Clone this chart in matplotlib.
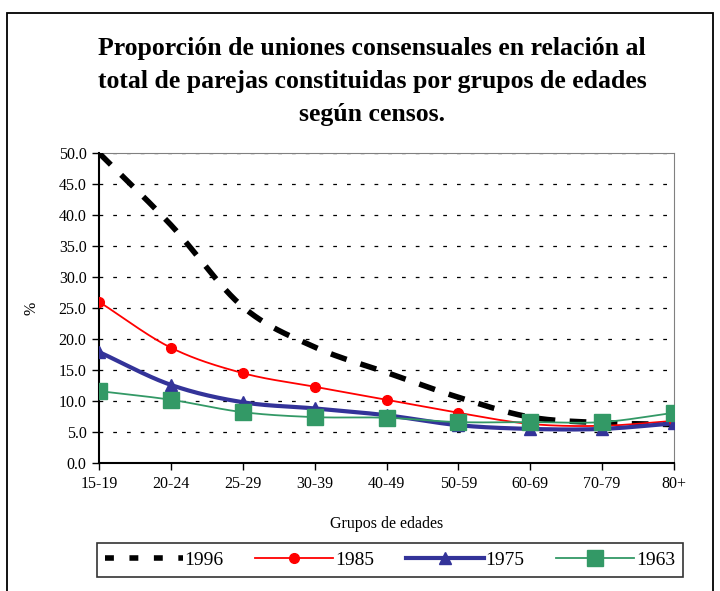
import numpy as np
import matplotlib
matplotlib.use('Agg')
import matplotlib.pyplot as plt
from matplotlib.lines import Line2D
from matplotlib.patches import Rectangle

# Data
grupos = ['15-19', '20-24', '25-29', '30-39', '40-49', '50-59', '60-69', '70-79', '80+']
censo_1996 = [50.0, 38.4, 25.2, 18.7, 14.6, 10.6, 7.4, 6.5, 6.2]
censo_1985 = [26.0, 18.6, 14.5, 12.3, 10.2, 8.1, 6.3, 6.0, 6.8]
censo_1975 = [17.9, 12.6, 9.8, 8.8, 7.7, 6.1, 5.5, 5.5, 6.4]
censo_1963 = [11.6, 10.2, 8.2, 7.4, 7.3, 6.6, 6.6, 6.6, 8.1]


def smooth(x, y, n=30):
    # Catmull-Rom curve through the points (like Excel's smoothed line)
    x = np.asarray(x, float)
    y = np.asarray(y, float)
    px = np.concatenate([[2 * x[0] - x[1]], x, [2 * x[-1] - x[-2]]])
    py = np.concatenate([[2 * y[0] - y[1]], y, [2 * y[-1] - y[-2]]])
    xs, ys = [], []
    t = np.linspace(0, 1, n)
    for i in range(1, len(px) - 2):
        for p, out in ((px, xs), (py, ys)):
            p0, p1, p2, p3 = p[i - 1], p[i], p[i + 1], p[i + 2]
            out.extend(0.5 * (2 * p1 + (-p0 + p2) * t
                              + (2 * p0 - 5 * p1 + 4 * p2 - p3) * t ** 2
                              + (-p0 + 3 * p1 - 3 * p2 + p3) * t ** 3))
    return xs, ys


plt.rcParams['font.family'] = 'Liberation Serif'

fig = plt.figure(figsize=(7.2, 5.91), dpi=100)
ax = fig.add_axes([99 / 720, 1 - 463 / 591, 575 / 720, 310 / 591])

x = np.arange(len(grupos))

# 1996 dashed, no markers
sx, sy = smooth(x, censo_1996)
ax.plot(sx, sy, color='black', lw=4, dashes=(3, 2.6), zorder=3)

# 1985 red with circles
sx, sy = smooth(x, censo_1985)
ax.plot(sx, sy, color='#FF0000', lw=1.3, zorder=4)
ax.plot(x, censo_1985, 'o', color='#FF0000', ms=7, zorder=5)

# 1975 blue with triangles
sx, sy = smooth(x, censo_1975)
ax.plot(sx, sy, color='#333399', lw=3, zorder=4)
ax.plot(x, censo_1975, '^', color='#333399', ms=9, zorder=5)

# 1963 green with squares
sx, sy = smooth(x, censo_1963)
ax.plot(sx, sy, color='#339966', lw=1.3, zorder=4)
ax.plot(x, censo_1963, 's', color='#339966', ms=12, zorder=6)

ax.set_xlim(0, len(grupos) - 1)
ax.set_ylim(0, 50)
ax.set_xticks(x)
ax.set_xticklabels(grupos, fontsize=11.5)
ax.set_yticks(np.arange(0, 51, 5))
ax.set_yticklabels(['%.1f' % v for v in np.arange(0, 51, 5)], fontsize=11.5)
ax.tick_params(direction='out', length=5, width=1, color='black', pad=4)
ax.yaxis.grid(True, color='black', linestyle=(0, (3, 8)), lw=0.9)
ax.spines['left'].set_color('black')
ax.spines['bottom'].set_color('black')
ax.spines['left'].set_linewidth(1.5)
ax.spines['bottom'].set_linewidth(1.5)
ax.spines['top'].set_color('#808080')
ax.spines['right'].set_color('#808080')

ax.set_xlabel('Grupos de edades', fontsize=11.5, labelpad=18)
ax.set_ylabel('%', fontsize=11.5, labelpad=14)

fig.text(372 / 720, 1 - 37 / 591,
         'Proporción de uniones consensuales en relación al\n'
         'total de parejas constituidas por grupos de edades\n'
         'según censos.',
         ha='center', va='top', fontsize=18.5, fontweight='bold',
         linespacing=1.55)

handles = [
    Line2D([], [], color='black', lw=4, dashes=(1.6, 2.8)),
    Line2D([], [], color='#FF0000', lw=1.3, marker='o', ms=7),
    Line2D([], [], color='#333399', lw=3, marker='^', ms=9),
    Line2D([], [], color='#339966', lw=1.3, marker='s', ms=12),
]
leg = fig.legend(handles, ['1996', '1985', '1975', '1963'], ncol=4,
                 loc='center', bbox_to_anchor=(97 / 720, 1 - 577 / 591, 586 / 720, 34 / 591),
                 mode='expand', fontsize=14, frameon=True, fancybox=False,
                 handlelength=4.0, handletextpad=0.1, borderaxespad=0,
                 columnspacing=1.2, borderpad=0.4)
leg.get_frame().set_edgecolor('black')
leg.get_frame().set_linewidth(1.2)

# outer chart border
fig.patches.append(Rectangle((7 / 720, -0.05), 706 / 720, 1.05 - 13 / 591,
                             transform=fig.transFigure, fill=False,
                             edgecolor='black', lw=1.3))

fig.savefig('out.png', dpi=100)
